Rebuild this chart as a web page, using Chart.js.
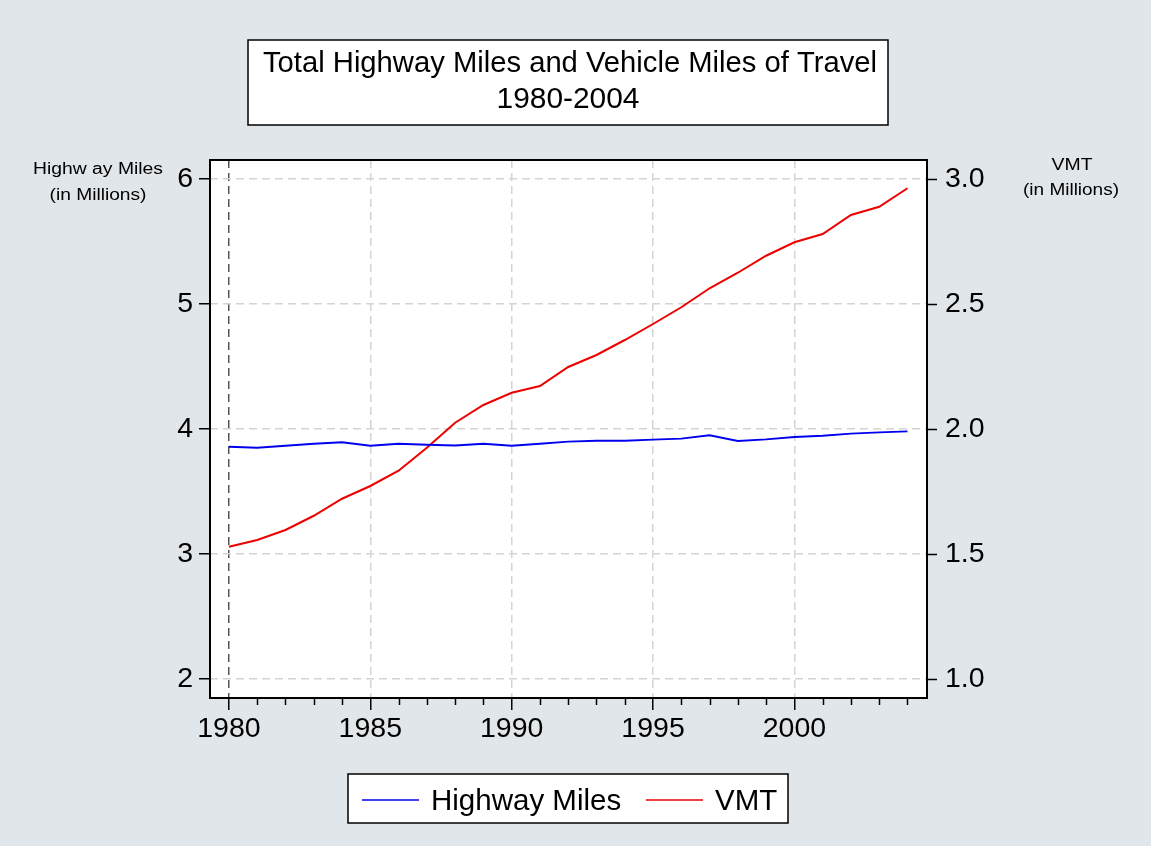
<!DOCTYPE html>
<html>
<head>
<meta charset="utf-8">
<script src="https://cdn.jsdelivr.net/npm/chart.js@4.4.1/dist/chart.umd.min.js"></script>
<style>
  body { margin: 0; background: #e1e6ea; }
  canvas { display: block; }
</style>
</head>
<body>
<canvas id="chart" width="1151" height="846"></canvas>
<script>
// data
const years = [1980, 1981, 1982, 1983, 1984, 1985, 1986, 1987, 1988, 1989, 1990, 1991, 1992,
               1993, 1994, 1995, 1996, 1997, 1998, 1999, 2000, 2001, 2002, 2003, 2004];
const highwayMiles = [3.858, 3.850, 3.866, 3.882, 3.893, 3.866, 3.882, 3.874, 3.869, 3.882, 3.866, 3.882, 3.899,
                      3.906, 3.906, 3.915, 3.923, 3.949, 3.904, 3.917, 3.936, 3.946, 3.963, 3.973, 3.981];
const vmt = [1.529, 1.556, 1.596, 1.653, 1.721, 1.772, 1.833, 1.925, 2.025, 2.096, 2.145, 2.172, 2.248,
             2.296, 2.356, 2.420, 2.487, 2.563, 2.625, 2.693, 2.747, 2.780, 2.856, 2.889, 2.963];
const xTicks = [1980, 1985, 1990, 1995, 2000];
const leftTicks = [2, 3, 4, 5, 6];
const rightTicks = [1.0, 1.5, 2.0, 2.5, 3.0];
const titleLines = ['Total Highway Miles and Vehicle Miles of Travel', '1980-2004'];
const leftAxisLabel = ['Highw ay Miles', '(in Millions)'];
const rightAxisLabel = ['VMT', '(in Millions)'];

const FONT = "'Liberation Sans', Arial, sans-serif";
const BG = '#e1e6ea';
const GRID = '#d4d4d4';
const TICK_SIZE = 28.5;

function fitText(ctx, text, cx, y, width, size) {
    ctx.save();
    ctx.font = size + 'px ' + FONT;
    const w = ctx.measureText(text).width;
    const k = width / w;
    ctx.translate(cx, y);
    ctx.scale(k, 1);
    ctx.textAlign = 'center';
    ctx.textBaseline = 'alphabetic';
    ctx.fillText(text, 0, 0);
    ctx.restore();
}

const decor = {
    id: 'decor',
    beforeDraw(chart) {
        const { ctx, chartArea: a } = chart;
        ctx.save();
        ctx.fillStyle = BG;
        ctx.fillRect(0, 0, chart.width, chart.height);
        ctx.fillStyle = '#fff';
        ctx.fillRect(a.left, a.top, a.right - a.left, a.bottom - a.top);
        ctx.restore();
    },
    afterDraw(chart) {
        const { ctx, chartArea: a } = chart;
        const x = chart.scales.x;
        ctx.save();

        // plot frame
        ctx.strokeStyle = '#000';
        ctx.lineWidth = 2;
        ctx.strokeRect(a.left, a.top, a.right - a.left, a.bottom - a.top);

        // minor year ticks
        ctx.lineWidth = 1.5;
        years.forEach(yr => {
            if (xTicks.includes(yr)) return;
            const px = Math.round(x.getPixelForValue(yr)) + 0.5;
            ctx.beginPath();
            ctx.moveTo(px, a.bottom);
            ctx.lineTo(px, a.bottom + 7);
            ctx.stroke();
        });

        // title box
        ctx.fillStyle = '#fff';
        ctx.fillRect(248, 40, 640, 85);
        ctx.lineWidth = 1.5;
        ctx.strokeRect(248, 40, 640, 85);
        ctx.fillStyle = '#000';
        fitText(ctx, titleLines[0], 570, 72, 614, 30);
        fitText(ctx, titleLines[1], 568, 108, 143, 29);

        // axis labels
        fitText(ctx, leftAxisLabel[0], 98, 174, 130, 16);
        fitText(ctx, leftAxisLabel[1], 98, 200, 97, 16);
        fitText(ctx, rightAxisLabel[0], 1072, 170, 41, 16);
        fitText(ctx, rightAxisLabel[1], 1071, 195, 96, 16);

        // legend
        ctx.fillStyle = '#fff';
        ctx.fillRect(348, 774, 440, 49);
        ctx.strokeStyle = '#000';
        ctx.lineWidth = 1.5;
        ctx.strokeRect(348, 774, 440, 49);
        const items = [
            { x0: 362, x1: 419, tx: 431 },
            { x0: 646, x1: 703, tx: 715 }
        ];
        chart.data.datasets.forEach((ds, i) => {
            const it = items[i];
            ctx.strokeStyle = ds.borderColor;
            ctx.lineWidth = 1.5;
            ctx.beginPath();
            ctx.moveTo(it.x0, 800);
            ctx.lineTo(it.x1, 800);
            ctx.stroke();
            ctx.fillStyle = '#000';
            ctx.font = '29.5px ' + FONT;
            ctx.textAlign = 'left';
            ctx.textBaseline = 'alphabetic';
            ctx.fillText(ds.label, it.tx, 810);
        });
        ctx.restore();
    }
};

new Chart(document.getElementById('chart'), {
    type: 'line',
    data: {
        datasets: [
            {
                label: 'Highway Miles',
                data: years.map((yr, i) => ({ x: yr, y: highwayMiles[i] })),
                borderColor: '#0000ee',
                borderWidth: 2,
                pointRadius: 0,
                tension: 0,
                yAxisID: 'y'
            },
            {
                label: 'VMT',
                data: years.map((yr, i) => ({ x: yr, y: vmt[i] })),
                borderColor: '#ee0000',
                borderWidth: 2,
                pointRadius: 0,
                tension: 0,
                yAxisID: 'y1'
            }
        ]
    },
    options: {
        responsive: false,
        animation: false,
        layout: { padding: { top: 160, left: 0, right: 0, bottom: 0 } },
        plugins: {
            legend: { display: false },
            title: { display: false },
            tooltip: { enabled: false }
        },
        scales: {
            x: {
                type: 'linear',
                min: 1979.33,
                max: 2004.69,
                afterBuildTicks: s => { s.ticks = xTicks.map(v => ({ value: v })); },
                afterFit: s => { s.height = 148; },
                ticks: {
                    color: '#000',
                    font: { size: TICK_SIZE, family: FONT },
                    padding: 2,
                    maxRotation: 0,
                    callback: v => String(v)
                },
                grid: {
                    color: c => (c.tick && c.tick.value === 1980) ? '#555' : GRID,
                    lineWidth: 1.5,
                    tickColor: '#000',
                    tickLength: 12,
                    tickWidth: 1.5,
                    tickBorderDash: []
                },
                border: { display: false, dash: [8, 5] }
            },
            y: {
                position: 'left',
                min: 1.848,
                max: 6.152,
                afterBuildTicks: s => { s.ticks = leftTicks.map(v => ({ value: v })); },
                afterFit: s => { s.width = 210; },
                ticks: {
                    color: '#000',
                    font: { size: TICK_SIZE, family: FONT },
                    padding: 6,
                    callback: v => String(v)
                },
                grid: {
                    color: GRID,
                    lineWidth: 1.5,
                    tickColor: '#000',
                    tickLength: 11,
                    tickWidth: 1.5,
                    tickBorderDash: []
                },
                border: { display: false, dash: [8, 5] }
            },
            y1: {
                position: 'right',
                min: 0.924,
                max: 3.076,
                afterBuildTicks: s => { s.ticks = rightTicks.map(v => ({ value: v })); },
                afterFit: s => { s.width = 224; },
                ticks: {
                    color: '#000',
                    font: { size: TICK_SIZE, family: FONT },
                    padding: 8,
                    callback: v => Number(v).toFixed(1)
                },
                grid: {
                    drawOnChartArea: false,
                    color: '#000',
                    tickColor: '#000',
                    tickLength: 10,
                    tickWidth: 1.5
                },
                border: { display: false }
            }
        }
    },
    plugins: [decor]
});
</script>
</body>
</html>
